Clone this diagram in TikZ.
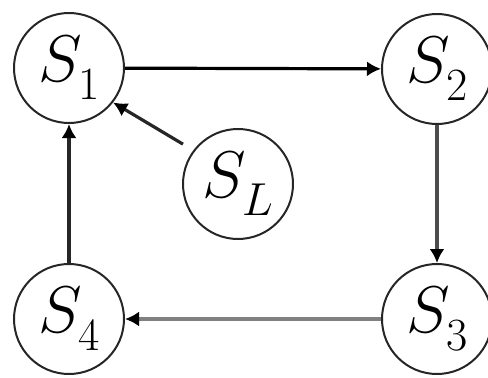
\RequirePackage{fix-cm}
\documentclass[tikz,border=0pt]{standalone}
\usetikzlibrary{arrows.meta}
% state label: italic S with a low-set subscript
\newcommand{\stlabel}[1]{$S_{\raisebox{-8pt}{$\scriptstyle #1$}}$}
\begin{document}
\begin{tikzpicture}[x=1pt,y=-1pt,
  state/.style={circle,draw=black!85,line width=2pt,minimum size=110pt,inner sep=0pt,
    font=\fontsize{66}{76}\selectfont},
  link/.style={line width=3.2pt,-{Latex[length=14pt,width=15pt,black]}}]
\useasboundingbox (0,0) rectangle (488,378);
\node[state] (S1) at (69,68)  {\stlabel{1}};
\node[state] (S2) at (437,69) {\stlabel{2}};
\node[state] (S3) at (437,319) {\stlabel{3}};
\node[state] (S4) at (69,319) {\stlabel{4}};
\node[state] (SL) at (238,184) {\stlabel{L}};
\draw[link,black] (S1) -- (S2);
\draw[link,black!70] (S2) -- (S3);
\draw[link,black!50] (S3) -- (S4);
\draw[link,black!85] (S4) -- (S1);
\draw[link,black!85,shorten <=12pt] (SL.143) -- (S1.-38);
\end{tikzpicture}
\end{document}
